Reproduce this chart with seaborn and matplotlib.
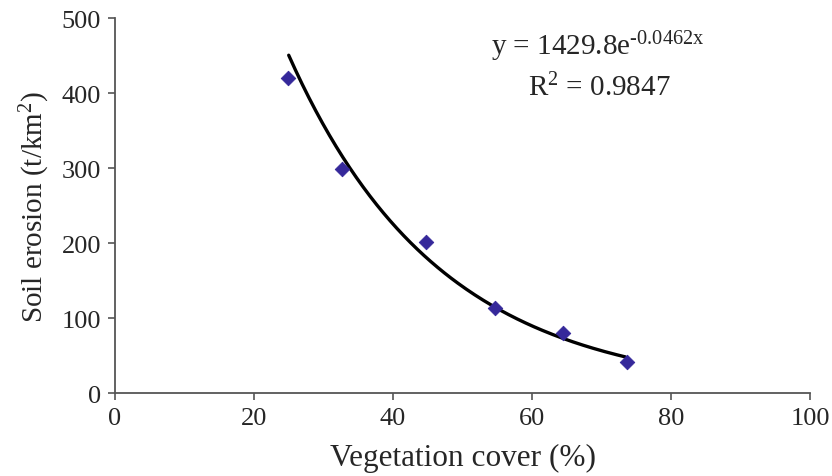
import numpy as np
import pandas as pd
import matplotlib
matplotlib.use("Agg")
import matplotlib.pyplot as plt
import seaborn as sns

# observed points
veg_cover = [24.9, 32.6, 44.8, 54.7, 64.5, 73.6]
soil_erosion = [420, 299, 201, 113, 80, 42]

# trendline coefficients as printed on the chart
fit_a = 1429.8
fit_b = -0.0462
fit_r2 = 0.9847
fit_range = (25.0, 73.4)

x_ticks = [0, 20, 40, 60, 80, 100]
y_ticks = [0, 100, 200, 300, 400, 500]

sns.set_theme(style="ticks")
plt.rcParams["font.family"] = ["Liberation Serif", "DejaVu Serif"]
plt.rcParams["mathtext.fontset"] = "custom"
plt.rcParams["mathtext.rm"] = "Liberation Serif"
plt.rcParams["mathtext.default"] = "regular"

AXIS_COLOR = "#555555"
TEXT_COLOR = "#262626"
MARKER_COLOR = "#35289a"

fig = plt.figure(figsize=(8.32, 4.77), dpi=100)
ax = fig.add_axes([0.138, 0.174, 0.836, 0.786])

xs = np.linspace(fit_range[0], fit_range[1], 200)
trend = pd.DataFrame({"x": xs, "y": fit_a * np.exp(fit_b * xs)})
sns.lineplot(data=trend, x="x", y="y", ax=ax, color="black", linewidth=2.4)

pts = pd.DataFrame({"veg": veg_cover, "soil": soil_erosion})
sns.scatterplot(data=pts, x="veg", y="soil", ax=ax, marker="D", s=55,
                color=MARKER_COLOR, edgecolor=MARKER_COLOR, zorder=3)

ax.set_xlim(0, 100)
ax.set_ylim(0, 500)
ax.set_xticks(x_ticks)
ax.set_yticks(y_ticks)
ax.tick_params(axis="both", labelsize=19, colors=TEXT_COLOR, length=5,
               width=1.2, direction="out", color=AXIS_COLOR, pad=5)
for side in ["top", "right"]:
    ax.spines[side].set_visible(False)
for side in ["left", "bottom"]:
    ax.spines[side].set_color(AXIS_COLOR)
    ax.spines[side].set_linewidth(1.3)

ax.set_xlabel("Vegetation cover (%)", fontsize=22.5, color=TEXT_COLOR, labelpad=10)
ax.set_ylabel("Soil erosion (t/km$^{2}$)", fontsize=21, color=TEXT_COLOR, labelpad=7)

ax.text(0.695, 0.925, r"y = %se$^{\text{%sx}}$" % (fit_a, fit_b), transform=ax.transAxes,
        ha="center", va="center", fontsize=21, color=TEXT_COLOR)
ax.text(0.697, 0.815, f"R$^{{2}}$ = {fit_r2}", transform=ax.transAxes,
        ha="center", va="center", fontsize=21, color=TEXT_COLOR)

fig.savefig("out.png", dpi=100)
